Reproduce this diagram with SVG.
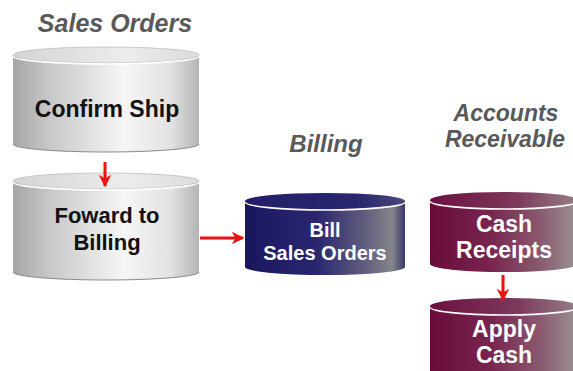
<svg xmlns="http://www.w3.org/2000/svg" width="573" height="371" viewBox="0 0 573 371">
<defs>
<linearGradient id="gBody" x1="0" y1="0" x2="1" y2="0">
<stop offset="0" stop-color="#a6a6a6"/>
<stop offset="0.2" stop-color="#c8c8c8"/>
<stop offset="0.6" stop-color="#f6f6f6"/>
<stop offset="0.85" stop-color="#e2e2e2"/>
<stop offset="1" stop-color="#b4b4b4"/>
</linearGradient>
<linearGradient id="gTop" x1="0" y1="0" x2="1" y2="0">
<stop offset="0" stop-color="#d4d4d4"/>
<stop offset="0.6" stop-color="#ececec"/>
<stop offset="1" stop-color="#dcdcdc"/>
</linearGradient>
<linearGradient id="nBody" x1="0" y1="0" x2="1" y2="0">
<stop offset="0" stop-color="#1a165e"/>
<stop offset="0.45" stop-color="#2a2670"/>
<stop offset="0.8" stop-color="#6a6880"/>
<stop offset="0.92" stop-color="#85858c"/>
<stop offset="1" stop-color="#3a3868"/>
</linearGradient>
<linearGradient id="nTop" x1="0" y1="0" x2="1" y2="0">
<stop offset="0" stop-color="#221e68"/>
<stop offset="0.7" stop-color="#2a2670"/>
<stop offset="1" stop-color="#4a4878"/>
</linearGradient>
<linearGradient id="mBody" x1="0" y1="0" x2="1" y2="0">
<stop offset="0" stop-color="#6a0c3a"/>
<stop offset="0.4" stop-color="#78244e"/>
<stop offset="0.75" stop-color="#8a5a70"/>
<stop offset="1" stop-color="#9a9494"/>
</linearGradient>
<linearGradient id="mTop" x1="0" y1="0" x2="1" y2="0">
<stop offset="0" stop-color="#6c1040"/>
<stop offset="0.6" stop-color="#7e3a5c"/>
<stop offset="1" stop-color="#948088"/>
</linearGradient>
<marker id="ah" viewBox="0 0 10 10" refX="9" refY="5" markerWidth="4.2" markerHeight="4.2" orient="auto" markerUnits="strokeWidth">
<path d="M0,0 L10,5 L0,10 L3,5 Z" fill="#ee1111"/>
</marker>
</defs>
<style>
.title{font-family:"Liberation Sans",Arial,sans-serif;font-weight:bold;font-style:italic;font-size:24px;fill:#595959;text-anchor:middle}
.lbl{font-family:"Liberation Sans",Arial,sans-serif;font-weight:bold;font-size:22px;text-anchor:middle}
.dark{fill:#111111}
.light{fill:#ffffff}
.rim{fill:none;stroke:#ffffff;stroke-width:1.6}
.base{fill:none;stroke:#8a8a8a;stroke-width:1}
.conn{stroke:#ee1111;stroke-width:3;fill:none;marker-end:url(#ah)}
</style>

<text class="title" x="115" y="32" style="font-size:25px">Sales Orders</text>
<text class="title" x="326" y="152">Billing</text>
<text class="title" x="506" y="121" style="font-size:23px">Accounts</text>
<text class="title" x="505" y="147" style="font-size:23px">Receivable</text>

<g id="confirm-ship">
<path d="M13,55 L13,144 A93,8 0 0 0 199,144 L199,55 Z" fill="url(#gBody)"/>
<path class="base" d="M13,144 A93,8 0 0 0 199,144"/>
<ellipse cx="106" cy="55" rx="93" ry="8" fill="url(#gTop)" stroke="#bdbdbd" stroke-width="0.8"/>
<path class="rim" d="M13,56 A93,8 0 0 0 199,56"/>
<text class="lbl dark" x="107" y="117" style="font-size:23px">Confirm Ship</text>
</g>

<g id="forward-to-billing">
<path d="M13,181 L13,272 A93,8 0 0 0 199,272 L199,181 Z" fill="url(#gBody)"/>
<path class="base" d="M13,272 A93,8 0 0 0 199,272"/>
<ellipse cx="106" cy="181" rx="93" ry="8" fill="url(#gTop)" stroke="#bdbdbd" stroke-width="0.8"/>
<path class="rim" d="M13,182 A93,8 0 0 0 199,182"/>
<text class="lbl dark" x="107" y="223">Foward to</text>
<text class="lbl dark" x="107" y="250">Billing</text>
</g>

<g id="bill-sales-orders">
<path d="M245,201 L245,267 A80,8 0 0 0 405,267 L405,201 Z" fill="url(#nBody)"/>
<ellipse cx="325" cy="201" rx="80" ry="8" fill="url(#nTop)"/>
<path class="rim" d="M245,202 A80,8 0 0 0 405,202"/>
<text class="lbl light" x="325" y="237" style="font-size:20px">Bill</text>
<text class="lbl light" x="325" y="260" style="font-size:20px">Sales Orders</text>
</g>

<g id="cash-receipts">
<path d="M430,200 L430,264 A74,8 0 0 0 578,264 L578,200 Z" fill="url(#mBody)"/>
<ellipse cx="504" cy="200" rx="74" ry="8" fill="url(#mTop)"/>
<path class="rim" d="M430,201 A74,8 0 0 0 578,201"/>
<text class="lbl light" x="504" y="232" style="font-size:23px">Cash</text>
<text class="lbl light" x="504" y="258" style="font-size:23px">Receipts</text>
</g>

<g id="apply-cash">
<path d="M430,306 L430,380 A74,8 0 0 0 578,380 L578,306 Z" fill="url(#mBody)"/>
<ellipse cx="504" cy="306" rx="74" ry="8" fill="url(#mTop)"/>
<path class="rim" d="M430,307 A74,8 0 0 0 578,307"/>
<text class="lbl light" x="504" y="337" style="font-size:23px">Apply</text>
<text class="lbl light" x="504" y="363" style="font-size:23px">Cash</text>
</g>

<g id="connectors">
<line class="conn" x1="105" y1="162" x2="105" y2="186"/>
<line class="conn" x1="200" y1="238" x2="243" y2="238"/>
<line class="conn" x1="503" y1="275" x2="503" y2="300"/>
</g>
</svg>
